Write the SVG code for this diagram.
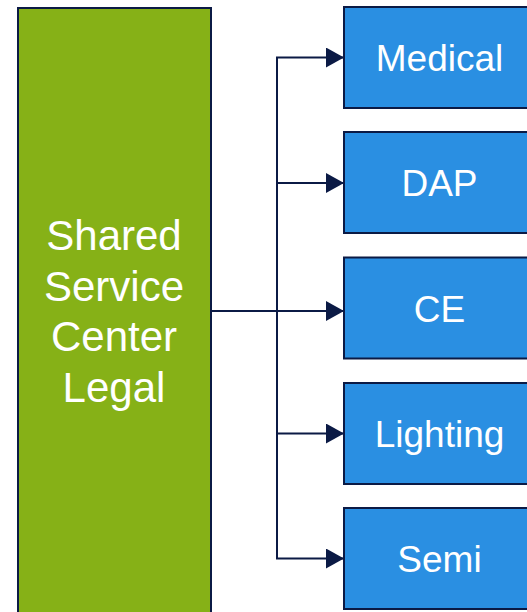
<svg xmlns="http://www.w3.org/2000/svg" width="527" height="612" viewBox="0 0 527 612">
  <style>
    .hub { fill: #86B117; stroke: #0B1A45; stroke-width: 2; }
    .unit { fill: #2A8FE2; stroke: #0B1A45; stroke-width: 2; }
    .wire { fill: none; stroke: #0B1A45; stroke-width: 2; }
    .label { font-family: "Liberation Sans", Arial, sans-serif; fill: #FFFFFF; text-anchor: middle; }
    .hub-label { font-size: 42px; }
    .unit-label { font-size: 37px; }
  </style>
  <defs>
    <marker id="arrow" markerUnits="userSpaceOnUse" markerWidth="20" markerHeight="22" refX="18" refY="10" orient="auto">
      <path d="M0,0 L18,10 L0,20 Z" fill="#0B1A45"/>
    </marker>
  </defs>

  <g id="connectors">
    <line class="wire" x1="211" y1="311" x2="344" y2="311" marker-end="url(#arrow)"/>
    <line class="wire" x1="277" y1="57.5" x2="277" y2="558.5"/>
    <line class="wire" x1="276" y1="57.5" x2="344" y2="57.5" marker-end="url(#arrow)"/>
    <line class="wire" x1="276" y1="183" x2="344" y2="183" marker-end="url(#arrow)"/>
    <line class="wire" x1="276" y1="433.5" x2="344" y2="433.5" marker-end="url(#arrow)"/>
    <line class="wire" x1="276" y1="558.5" x2="344" y2="558.5" marker-end="url(#arrow)"/>
  </g>

  <g id="shared-service-center-legal">
    <rect class="hub" x="18" y="8" width="193" height="620"/>
    <text class="label hub-label" x="114" y="250">Shared</text>
    <text class="label hub-label" x="114" y="300.5">Service</text>
    <text class="label hub-label" x="114" y="351">Center</text>
    <text class="label hub-label" x="114" y="401.5">Legal</text>
  </g>

  <g id="medical">
    <rect class="unit" x="344" y="7" width="193" height="101"/>
    <text class="label unit-label" x="439.5" y="71">Medical</text>
  </g>
  <g id="dap">
    <rect class="unit" x="344" y="132" width="193" height="101"/>
    <text class="label unit-label" x="439.5" y="196">DAP</text>
  </g>
  <g id="ce">
    <rect class="unit" x="344" y="257.5" width="193" height="101"/>
    <text class="label unit-label" x="439.5" y="321.5">CE</text>
  </g>
  <g id="lighting">
    <rect class="unit" x="344" y="383" width="193" height="101"/>
    <text class="label unit-label" x="439.5" y="447">Lighting</text>
  </g>
  <g id="semi">
    <rect class="unit" x="344" y="508" width="193" height="101"/>
    <text class="label unit-label" x="439.5" y="572">Semi</text>
  </g>
</svg>
